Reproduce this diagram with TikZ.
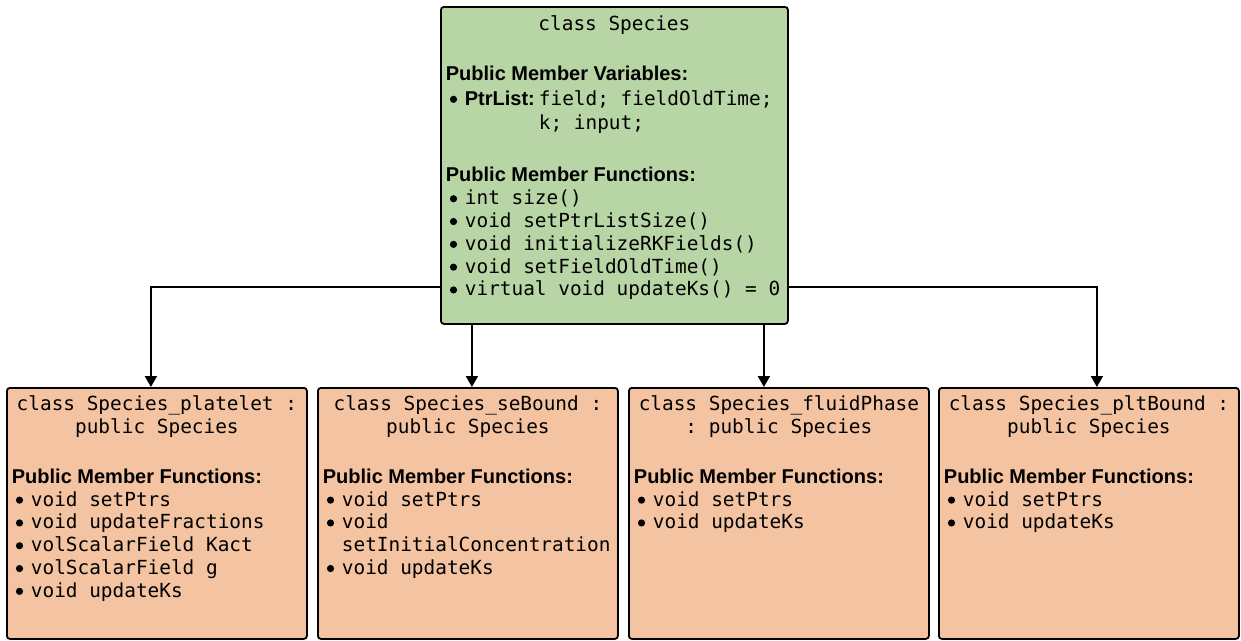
\documentclass[tikz,border=0pt]{standalone}
\usepackage{fontspec}
\setmainfont{Liberation Sans}
\setsansfont{Liberation Sans}
\setmonofont{DejaVu Sans Mono}
\usetikzlibrary{arrows.meta}

\definecolor{spgreen}{HTML}{B8D5A6}
\definecolor{sporange}{HTML}{F4C3A1}

\newcommand{\hd}[1]{{\sffamily\bfseries\fontsize{20}{23}\selectfont #1}}
\newcommand{\dotmark}{\tikz[baseline=-6pt]\fill (0,0) circle (3.6pt);}
\newcommand{\itm}{\par\noindent\hangindent=19pt\hangafter=1\makebox[19pt][l]{\hspace{4pt}\dotmark}}
\newcommand{\gap}[1][27pt]{\par\vspace{#1}}

\tikzset{
 box/.style={draw, line width=1.8pt, rounded corners=3pt, inner xsep=5pt, inner ysep=8pt,
  anchor=north west, font=\ttfamily\fontsize{19.4}{22.8}\selectfont},
 parent/.style={box, fill=spgreen},
 child/.style={box, fill=sporange},
 arr/.style={line width=2pt, -{Triangle[length=11pt,width=12pt]}},
}

\begin{document}
\begin{tikzpicture}[x=1pt,y=-1pt]
 \useasboundingbox (0,0) rectangle (1241,640) ;

 \node[parent] (sp) at (440,6) {\parbox[t][301pt][t]{337pt}{\centering\vspace*{1pt}class Species\gap
  \raggedright\hd{Public Member Variables:}\gap[2pt]
  \itm\hd{PtrList:}\hspace{4pt}field; fieldOldTime;\gap[1pt]
  \noindent\hspace*{19pt}\phantom{\hd{PtrList:}}\hspace{4pt}k; input;\gap[30pt]
  \hd{Public Member Functions:}
  \itm int size()
  \itm void setPtrListSize()
  \itm void initializeRKFields()
  \itm void setFieldOldTime()
  \itm virtual void updateKs() = 0}} ;

 \node[child] (pl) at (6,387) {\parbox[t][235pt][t]{290pt}{\centering class Species\_platelet :\\ public Species\gap
  \raggedright\hd{Public Member Functions:}
  \itm void setPtrs
  \itm void updateFractions
  \itm volScalarField Kact
  \itm volScalarField g
  \itm void updateKs}} ;

 \node[child] (sb) at (317,387) {\parbox[t][235pt][t]{290pt}{\centering class Species\_seBound :\\ public Species\gap
  \raggedright\hd{Public Member Functions:}
  \itm void setPtrs
  \itm void\newline setInitialConcentration
  \itm void updateKs}} ;

 \node[child] (fp) at (628,387) {\parbox[t][235pt][t]{290pt}{\centering class Species\_fluidPhase\\ : public Species\gap
  \raggedright\hd{Public Member Functions:}
  \itm void setPtrs
  \itm void updateKs}} ;

 \node[child] (pb) at (938,387) {\parbox[t][235pt][t]{290pt}{\centering class Species\_pltBound :\\ public Species\gap
  \raggedright\hd{Public Member Functions:}
  \itm void setPtrs
  \itm void updateKs}} ;

 \draw[arr] ([yshift=37.5pt]sp.south west) -| ([xshift=-6pt]pl.north) ;
 \draw[arr] ([xshift=4pt]sb.north |- sp.south) -- ([xshift=4pt]sb.north) ;
 \draw[arr] ([xshift=-15pt]fp.north |- sp.south) -- ([xshift=-15pt]fp.north) ;
 \draw[arr] ([yshift=37.5pt]sp.south east) -| ([xshift=8pt]pb.north) ;

\end{tikzpicture}
\end{document}
